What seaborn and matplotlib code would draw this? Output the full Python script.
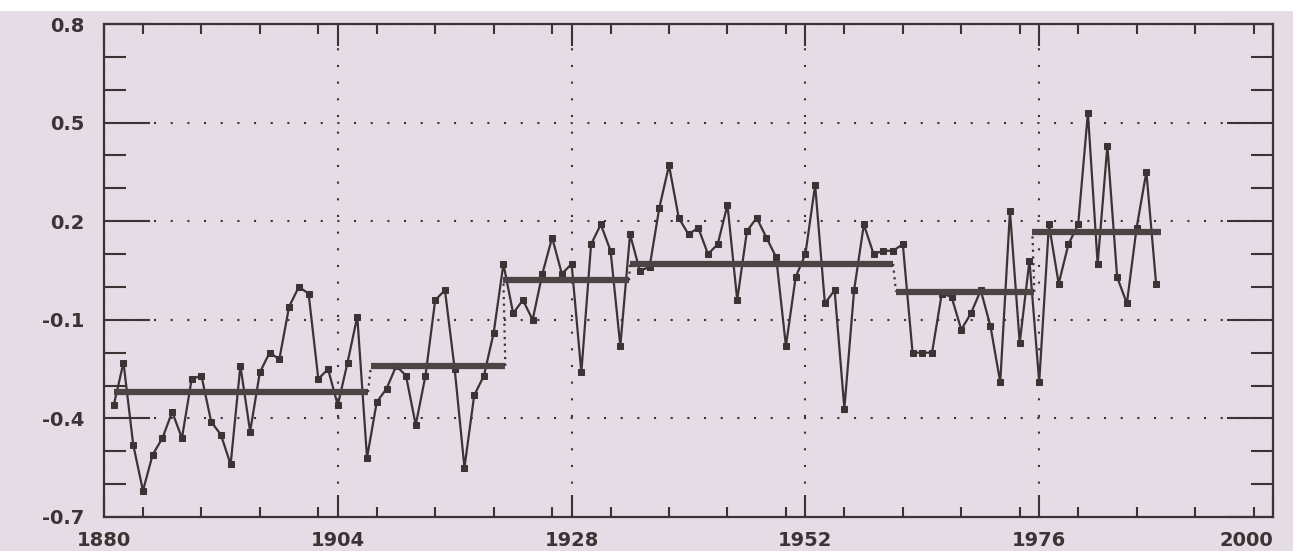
import matplotlib
matplotlib.use('Agg')
import matplotlib.pyplot as plt
import seaborn as sns
from matplotlib.ticker import MultipleLocator, FormatStrFormatter
from matplotlib.patches import Rectangle

# annual values
years = list(range(1881, 1989))
values = [
    -0.36, -0.23, -0.48, -0.62, -0.51, -0.46, -0.38, -0.46, -0.28, -0.27,   # 1881-1890
    -0.41, -0.45, -0.54, -0.24, -0.44, -0.26, -0.20, -0.22, -0.06, 0.00,    # 1891-1900
    -0.02, -0.28, -0.25, -0.36, -0.23, -0.09, -0.52, -0.35, -0.31, -0.24,   # 1901-1910
    -0.27, -0.42, -0.27, -0.04, -0.01, -0.25, -0.55, -0.33, -0.27, -0.14,   # 1911-1920
    0.07, -0.08, -0.04, -0.10, 0.04, 0.15, 0.04, 0.07, -0.26, 0.13,         # 1921-1930
    0.19, 0.11, -0.18, 0.16, 0.05, 0.06, 0.24, 0.37, 0.21, 0.16,            # 1931-1940
    0.18, 0.10, 0.13, 0.25, -0.04, 0.17, 0.21, 0.15, 0.09, -0.18,           # 1941-1950
    0.03, 0.10, 0.31, -0.05, -0.01, -0.37, -0.01, 0.19, 0.10, 0.11,         # 1951-1960
    0.11, 0.13, -0.20, -0.20, -0.20, -0.02, -0.03, -0.13, -0.08, -0.01,     # 1961-1970
    -0.12, -0.29, 0.23, -0.17, 0.08, -0.29, 0.19, 0.01, 0.13, 0.19,         # 1971-1980
    0.53, 0.07, 0.43, 0.03, -0.05, 0.18, 0.35, 0.01,                        # 1981-1988
]

# period means (horizontal bars)
seg_start = [1881, 1907.4, 1921, 1934, 1961.3, 1975.3]
seg_end = [1907.1, 1921.2, 1933.9, 1961, 1975.5, 1988.5]
seg_level = [-0.32, -0.24, 0.02, 0.07, -0.015, 0.166]

x_ticks = [1880, 1904, 1928, 1952, 1976, 2000]
y_ticks = [-0.7, -0.4, -0.1, 0.2, 0.5, 0.8]

paper = '#e5dce5'
ink = '#3a3435'

sns.set_style('ticks')
plt.rcParams['font.family'] = ['DejaVu Sans']
plt.rcParams['axes.unicode_minus'] = False

fig = plt.figure(figsize=(12.93, 5.51), dpi=100, facecolor=paper)
fig.patches.append(Rectangle((0, 1 - 10 / 551), 1, 10 / 551, transform=fig.transFigure,
                             color='white', zorder=0))
ax = fig.add_axes([104 / 1293, 1 - 517 / 551, 1169 / 1293, 493 / 551])
ax.set_facecolor(paper)

sns.lineplot(x=years, y=values, marker='s', markersize=5, color=ink, linewidth=1.6,
             markeredgecolor=ink, ax=ax, zorder=2)

for s, e, l in zip(seg_start, seg_end, seg_level):
    ax.plot([s, e], [l, l], lw=4.5, color='#4a4445', solid_capstyle='butt', zorder=3)
for i in range(len(seg_start) - 1):
    ax.plot([seg_end[i], seg_start[i + 1]], [seg_level[i], seg_level[i + 1]],
            linestyle=(0, (1, 2)), lw=1.6, color=ink, zorder=3)

ax.set_xlim(1880, 2000)
ax.set_ylim(-0.7, 0.8)
ax.set_xticks(x_ticks)
ax.set_yticks(y_ticks)
ax.xaxis.set_minor_locator(MultipleLocator(6))
ax.yaxis.set_minor_locator(MultipleLocator(0.1))
ax.yaxis.set_major_formatter(FormatStrFormatter('%.1f'))

ax.tick_params(axis='x', which='major', direction='in', length=16, width=1.5,
               top=True, bottom=True, pad=10, colors=ink, labelsize=14)
ax.tick_params(axis='x', which='minor', direction='in', length=7, width=1.5,
               top=True, bottom=True, colors=ink)
ax.tick_params(axis='y', which='major', direction='in', length=33, width=1.5,
               left=True, right=True, pad=14, colors=ink, labelsize=14)
ax.tick_params(axis='y', which='minor', direction='in', length=16, width=1.5,
               left=True, right=True, colors=ink)
for lab in ax.get_xticklabels() + ax.get_yticklabels():
    lab.set_fontweight('bold')
# last year label sits at the right edge of the page
ax.get_xticklabels()[-1].set_horizontalalignment('right')
ax.get_xticklabels()[-1].set_x(2001.5)

ax.grid(which='major', linestyle=(0, (1, 7)), linewidth=1.5, color=ink)
for sp in ax.spines.values():
    sp.set_visible(True)
    sp.set_color(ink)
    sp.set_linewidth(1.6)

fig.savefig('out.png', dpi=100, facecolor=paper)
